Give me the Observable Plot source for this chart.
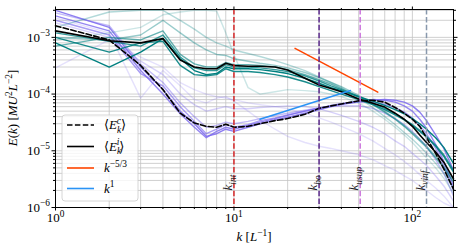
<!DOCTYPE html>
<html><head><meta charset="utf-8">
<script src="https://cdn.jsdelivr.net/npm/d3@7"></script>
<script src="https://cdn.jsdelivr.net/npm/@observablehq/plot@0.6"></script>
<style>
body{margin:0;background:#fff;}
#chart{position:relative;width:463px;height:250px;}
</style></head><body><div id="chart"></div>
<script>
const SERIF = "'Liberation Serif','DejaVu Serif',serif";

// wavenumbers sampled
const K = [1,2,3,4,5,6,7,8,9,10,12,14,17,20,25,30,35,40,50,60,70,80,90,100,110,120,135,150,170];

// compressible spectra (purple)
const comp1 = [3.0e-3,1.5e-3,3.0e-4,1.2e-4,5.0e-5,3.0e-5,1.8e-5,2.0e-5,2.4e-5,2.2e-5,2.6e-5,3.0e-5,3.5e-5,3.9e-5,4.6e-5,5.3e-5,6.0e-5,6.6e-5,7.4e-5,7.8e-5,8.0e-5,7.8e-5,7.2e-5,6.2e-5,4.8e-5,3.4e-5,1.9e-5,1.1e-5,4.5e-6];
const comp2 = [2.4e-3,1.3e-3,2.6e-4,1.0e-4,4.5e-5,2.6e-5,1.7e-5,2.2e-5,2.6e-5,2.4e-5,2.8e-5,3.2e-5,3.7e-5,4.2e-5,5.0e-5,5.6e-5,6.3e-5,6.8e-5,7.6e-5,8.0e-5,7.8e-5,7.2e-5,6.2e-5,5.0e-5,3.6e-5,2.5e-5,1.3e-5,6.5e-6,2.4e-6];
const comp3 = [2.0e-3,1.1e-3,2.3e-4,1.4e-4,6.0e-5,3.3e-5,2.0e-5,2.4e-5,2.9e-5,2.6e-5,2.9e-5,3.4e-5,3.8e-5,4.3e-5,5.0e-5,5.7e-5,6.2e-5,6.6e-5,7.2e-5,7.2e-5,6.6e-5,5.8e-5,4.8e-5,3.8e-5,2.8e-5,2.0e-5,1.1e-5,5.5e-6,2.0e-6];
const comp4 = [2.7e-3,1.6e-3,3.4e-4,1.6e-4,7.0e-5,4.0e-5,2.6e-5,2.8e-5,3.2e-5,3.0e-5,3.3e-5,3.7e-5,4.2e-5,4.6e-5,5.2e-5,5.7e-5,6.0e-5,6.2e-5,6.2e-5,5.6e-5,4.6e-5,3.7e-5,2.9e-5,2.2e-5,1.6e-5,1.2e-5,7.0e-6,4.0e-6,1.6e-6];
const comp5 = [1.8e-3,1.0e-3,3.8e-4,2.2e-4,1.0e-4,6.5e-5,5.0e-5,5.5e-5,6.0e-5,5.5e-5,5.5e-5,5.8e-5,6.0e-5,6.2e-5,6.0e-5,5.5e-5,4.8e-5,4.2e-5,3.3e-5,2.6e-5,2.0e-5,1.5e-5,1.2e-5,9.0e-6,7.0e-6,5.5e-6,3.6e-6,2.4e-6,1.3e-6];
const comp6 = [2.2e-3,1.2e-3,8.5e-5,2.6e-4,1.4e-4,8.0e-5,7.0e-5,8.5e-5,9.0e-5,7.5e-5,5.0e-5,3.5e-5,2.4e-5,1.8e-5,1.4e-5,1.2e-5,1.1e-5,1.0e-5,8.5e-6,7.0e-6,5.5e-6,4.5e-6,3.6e-6,3.0e-6,2.4e-6,2.0e-6,1.5e-6,1.2e-6,1.0e-6];
const comp7 = [2.9e-4,9.0e-4,4.5e-4,3.0e-4,1.6e-4,1.2e-4,1.0e-4,9.0e-5,8.5e-5,8.0e-5,7.0e-5,6.5e-5,6.0e-5,5.5e-5,4.6e-5,3.8e-5,3.2e-5,2.7e-5,2.0e-5,1.5e-5,1.1e-5,8.5e-6,6.5e-6,5.0e-6,3.8e-6,3.0e-6,2.2e-6,1.6e-6,1.0e-6];
const compSeries = [comp1,comp2,comp3,comp4,comp5,comp6,comp7];
const compAlpha = [0.85,0.8,0.65,0.45,0.3,0.2,0.2];

// incompressible spectra (teal)
const inc1 = [8.0e-4,3.0e-4,5.5e-4,9.5e-4,4.2e-4,2.6e-4,2.2e-4,2.3e-4,3.0e-4,2.8e-4,2.8e-4,2.7e-4,2.5e-4,2.3e-4,1.9e-4,1.55e-4,1.3e-4,1.15e-4,9.0e-5,7.5e-5,6.3e-5,5.3e-5,4.5e-5,3.7e-5,3.0e-5,2.4e-5,1.7e-5,1.15e-5,6.0e-6];
const inc2 = [1.0e-3,5.5e-4,8.0e-4,8.5e-4,3.2e-4,2.2e-4,2.1e-4,2.2e-4,2.8e-4,2.5e-4,2.5e-4,2.4e-4,2.2e-4,2.0e-4,1.65e-4,1.35e-4,1.15e-4,1.0e-4,8.0e-5,6.5e-5,5.3e-5,4.3e-5,3.5e-5,2.8e-5,2.2e-5,1.75e-5,1.2e-5,8.0e-6,4.2e-6];
const inc3 = [1.2e-3,8.5e-4,7.0e-4,1.1e-3,4.5e-4,2.9e-4,2.6e-4,2.6e-4,3.3e-4,3.0e-4,3.0e-4,2.9e-4,2.7e-4,2.5e-4,2.1e-4,1.7e-4,1.4e-4,1.2e-4,9.0e-5,7.0e-5,5.6e-5,4.5e-5,3.6e-5,2.9e-5,2.3e-5,1.8e-5,1.25e-5,8.5e-6,4.5e-6];
const inc4 = [7.0e-4,1.0e-3,9.0e-4,1.3e-3,5.0e-4,3.4e-4,3.0e-4,3.0e-4,3.6e-4,3.3e-4,3.3e-4,3.2e-4,3.0e-4,2.7e-4,2.2e-4,1.8e-4,1.5e-4,1.25e-4,9.0e-5,6.5e-5,4.8e-5,3.6e-5,2.7e-5,2.0e-5,1.5e-5,1.15e-5,7.5e-6,5.0e-6,2.8e-6];
const inc5 = [1.0e-3,9.0e-4,1.1e-3,2.0e-3,1.2e-3,8.0e-4,6.0e-4,5.0e-4,4.8e-4,4.2e-4,3.8e-4,3.5e-4,3.2e-4,2.9e-4,2.4e-4,1.95e-4,1.6e-4,1.35e-4,9.5e-5,6.8e-5,5.0e-5,3.7e-5,2.8e-5,2.1e-5,1.6e-5,1.2e-5,8.0e-6,5.3e-6,3.0e-6];
const inc6 = [1.5e-3,2.8e-3,3.0e-3,3.0e-3,2.0e-3,1.4e-3,1.0e-3,8.0e-4,7.0e-4,6.0e-4,5.2e-4,4.6e-4,3.9e-4,3.3e-4,2.6e-4,2.0e-4,1.6e-4,1.3e-4,8.5e-5,5.8e-5,4.0e-5,2.9e-5,2.1e-5,1.6e-5,1.2e-5,9.0e-6,6.0e-6,4.0e-6,2.2e-6];
const inc7 = [9.0e-4,1.2e-3,1.5e-3,2.5e-3,2.8e-3,3.0e-3,3.0e-3,2.9e-3,1.2e-3,5.0e-4,1.3e-4,1.0e-4,1.1e-4,1.2e-4,1.15e-4,1.1e-4,1.0e-4,9.0e-5,7.0e-5,5.0e-5,3.6e-5,2.6e-5,1.9e-5,1.4e-5,1.0e-5,7.5e-6,5.0e-6,3.3e-6,1.8e-6];
const incSeries = [inc1,inc2,inc3,inc4,inc5,inc6,inc7];
const incAlpha = [1,0.9,0.8,0.6,0.4,0.3,0.2];

// averages
const meanComp = [1.6e-3,9.0e-4,3.2e-4,1.2e-4,4.6e-5,3.1e-5,2.7e-5,2.6e-5,2.95e-5,2.6e-5,2.7e-5,3.0e-5,3.4e-5,3.7e-5,4.4e-5,5.6e-5,6.2e-5,6.7e-5,7.6e-5,7.8e-5,7.2e-5,5.8e-5,4.6e-5,3.6e-5,2.7e-5,1.7e-5,9.0e-6,4.8e-6,2.1e-6];
const meanInc = [1.3e-3,8.7e-4,8.0e-4,9.5e-4,4.0e-4,3.0e-4,2.8e-4,2.8e-4,3.5e-4,3.2e-4,3.1e-4,3.1e-4,3.0e-4,2.65e-4,1.9e-4,1.45e-4,1.25e-4,1.1e-4,8.2e-5,6.9e-5,5.9e-5,4.6e-5,3.6e-5,2.7e-5,1.9e-5,1.4e-5,9.5e-6,6.3e-6,3.2e-6];

// reference power laws (end points)
const slope53K = [22,64];
const slope53E = [6.4e-4,1.08e-4];
const slope1K = [14,45];
const slope1E = [3.6e-5,1.16e-4];

// characteristic wavenumbers
const kMarks = [10,30,51,120];
const kMarkLabels = ["k_{int}","k_{bo}","k_{usup}","k_{vinf}"];
const kMarkColors = ["#d62728","#5b2a8c","#cc77dd","#8898ac"];
const kLabelE = 2.0e-6;

// ticks
const xTicks = [1,10,100];
const xTickLabels = ["10^{0}","10^{1}","10^{2}"];
const yTicks = [1e-6,1e-5,1e-4,1e-3];
const yTickLabels = ["10^{−6}","10^{−5}","10^{−4}","10^{−3}"];
const xLabel = "k [L^{−1}]";
const yLabel = "E(k) [MU^{2}L^{−2}]";
const legendLabels = ["⟨E_{k}^{c}⟩","⟨E_{k}^{i}⟩","k^{−5/3}","k^{1}"];

const xMinor = [], yMinor = [];
for (const d of [1,10,100]) for (let m = 2; m <= 9; m++) if (m*d <= 170) xMinor.push(m*d);
for (const d of [1e-6,1e-5,1e-4,1e-3]) for (let m = 2; m <= 9; m++) if (m*d <= 3.1e-3) yMinor.push(m*d);

const toRows = arr => K.map((k,i) => ({k, E: arr[i]}));
const PURPLE = "#7b68ee", TEAL = "#008080";
const gridStyle = {stroke:"#c4c4c4", strokeOpacity:1, strokeWidth:0.8};

const marks = [
  Plot.gridX(xTicks.concat(xMinor), gridStyle),
  Plot.gridY(yTicks.concat(yMinor), gridStyle),
];
compSeries.forEach((s,i) => marks.push(Plot.line(toRows(s), {x:"k", y:"E", stroke:PURPLE, strokeOpacity:compAlpha[i], strokeWidth:1.4, clip:true})));
incSeries.forEach((s,i) => marks.push(Plot.line(toRows(s), {x:"k", y:"E", stroke:TEAL, strokeOpacity:incAlpha[i], strokeWidth:1.4, clip:true})));
marks.push(
  Plot.line(toRows(meanComp), {x:"k", y:"E", stroke:"black", strokeWidth:1.6, strokeDasharray:"5.5,2.4"}),
  Plot.line(toRows(meanInc), {x:"k", y:"E", stroke:"black", strokeWidth:1.6}),
  Plot.line(slope53K.map((k,i)=>({k,E:slope53E[i]})), {x:"k", y:"E", stroke:"#ff4500", strokeWidth:1.5}),
  Plot.line(slope1K.map((k,i)=>({k,E:slope1E[i]})), {x:"k", y:"E", stroke:"#2a93f5", strokeWidth:1.5}),
);
kMarks.forEach((k,i) => marks.push(Plot.ruleX([k], {stroke:kMarkColors[i], strokeWidth:1.5, strokeDasharray:"5.5,2.4"})));
marks.push(Plot.text(kMarks.map((k,i)=>({k, E:kLabelE, t:kMarkLabels[i]})), {x:"k", y:"E", text:"t", rotate:-90, textAnchor:"start", dx:-6, fontSize:13, fill:"#222"}));
marks.push(
  Plot.frame({stroke:"black", strokeWidth:1}),
  Plot.axisX(xTicks, {tickSize:3.5, tickPadding:2, tickFormat:d => xTickLabels[xTicks.indexOf(d)], label:null, fontSize:13}),
  Plot.axisX(xMinor, {tickSize:2, tickFormat:() => "", label:null}),
  Plot.axisX(xTicks, {anchor:"top", tickSize:3.5, tickFormat:() => "", label:null}),
  Plot.axisX(xMinor, {anchor:"top", tickSize:2, tickFormat:() => "", label:null}),
  Plot.axisY(yTicks, {tickSize:3.5, tickPadding:2, tickFormat:d => yTickLabels[yTicks.indexOf(d)], label:null, fontSize:13}),
  Plot.axisY(yMinor, {tickSize:2, tickFormat:() => "", label:null}),
  Plot.axisY(yTicks, {anchor:"right", tickSize:3.5, tickFormat:() => "", label:null}),
  Plot.axisY(yMinor, {anchor:"right", tickSize:2, tickFormat:() => "", label:null}),
);

const svg = Plot.plot({
  width:463, height:250,
  marginLeft:55, marginRight:10, marginTop:9, marginBottom:43,
  x:{type:"log", domain:[1,170]},
  y:{type:"log", domain:[1e-6,3.1e-3]},
  style:{fontFamily:SERIF, fontSize:"13px", background:"white", color:"black"},
  marks
});

// rich math text: letters italic, _{..} subscript, ^{..} superscript
function richText(textEl, str, fs = 13) {
  const sel = d3.select(textEl);
  sel.text(null);
  let cur = 0, lastSubLen = 0, prevWasSub = false;
  const re = /([_^])\{([^}]*)\}|([^_^]+)/g;
  let m;
  const addRuns = (s, attrs, small) => {
    const parts = s.match(/[A-Za-z]+|[^A-Za-z]+/g) || [];
    parts.forEach((p, j) => {
      const ts = sel.append("tspan").text(p);
      if (/[A-Za-z]/.test(p)) ts.attr("font-style","italic");
      if (small) ts.attr("font-size", (fs*0.72).toFixed(1));
      if (j === 0) for (const a in attrs) if (attrs[a] !== null && attrs[a] !== 0) ts.attr(a, attrs[a]);
    });
  };
  while ((m = re.exec(str))) {
    if (m[3] !== undefined) {
      addRuns(m[3], {dy: 0 - cur}, false);
      cur = 0; prevWasSub = false;
    } else if (m[1] === "_") {
      const t = fs*0.28;
      addRuns(m[2], {dy: t - cur}, true);
      cur = t; prevWasSub = true; lastSubLen = m[2].length;
    } else {
      const t = -fs*0.42;
      const dx = prevWasSub ? -(lastSubLen*fs*0.72*0.48) : null;
      addRuns(m[2], {dy: t - cur, dx}, true);
      cur = t; prevWasSub = false;
    }
  }
}

d3.select(svg).selectAll("text").each(function() {
  const s = this.textContent;
  if (s.includes("_{") || s.includes("^{")) richText(this, s, 13);
});

const root = d3.select(svg);
// axis labels
const xl = root.append("text").attr("x", 254).attr("y", 241).attr("text-anchor","middle")
  .attr("font-family", SERIF).attr("font-size", 13).attr("fill","black");
richText(xl.node(), xLabel);
const yl = root.append("text").attr("transform","translate(17,108) rotate(-90)").attr("text-anchor","middle")
  .attr("font-family", SERIF).attr("font-size", 13).attr("fill","black");
richText(yl.node(), yLabel);

// legend
const leg = root.append("g").attr("font-family", SERIF).attr("font-size", 13).attr("text-anchor","start");
leg.append("rect").attr("x",62).attr("y",115).attr("width",76).attr("height",86).attr("rx",3)
  .attr("fill","white").attr("fill-opacity",0.8).attr("stroke","#cccccc").attr("stroke-width",0.8);
const legStyles = [
  {stroke:"black", dash:"5.5,2.4"},
  {stroke:"black", dash:null},
  {stroke:"#ff4500", dash:null},
  {stroke:"#2a93f5", dash:null}
];
const legY = [125,146.5,168,188.5];
legendLabels.forEach((lab,i) => {
  const ln = leg.append("line").attr("x1",67).attr("x2",94).attr("y1",legY[i]).attr("y2",legY[i])
    .attr("stroke",legStyles[i].stroke).attr("stroke-width",1.6);
  if (legStyles[i].dash) ln.attr("stroke-dasharray", legStyles[i].dash);
  const t = leg.append("text").attr("x",104).attr("y",legY[i]+4).attr("fill","black").attr("text-anchor","start");
  richText(t.node(), lab);
});

document.getElementById("chart").appendChild(svg);
</script></body></html>
